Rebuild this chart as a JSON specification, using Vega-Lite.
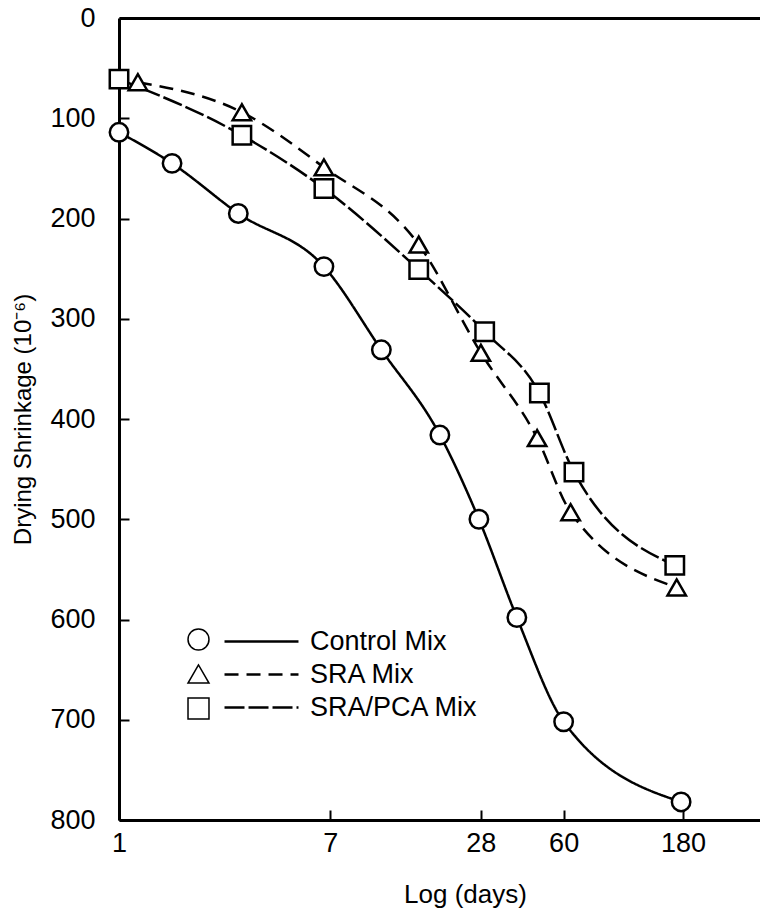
{
  "$schema": "https://vega.github.io/schema/vega-lite/v6.json",
  "width": 641,
  "height": 802,
  "autosize": {"type": "none"},
  "padding": {"left": 119, "top": 18, "right": 0, "bottom": 98},
  "background": "white",
  "config": {
    "view": {"stroke": null},
    "font": "Liberation Sans"
  },
  "data": {
    "values": [
      {"mix": "Control Mix", "days": 1, "shrinkage": 114},
      {"mix": "Control Mix", "days": 1.63, "shrinkage": 145},
      {"mix": "Control Mix", "days": 3.0, "shrinkage": 195},
      {"mix": "Control Mix", "days": 6.6, "shrinkage": 248},
      {"mix": "Control Mix", "days": 11.2, "shrinkage": 331},
      {"mix": "Control Mix", "days": 19.2, "shrinkage": 416},
      {"mix": "Control Mix", "days": 27.5, "shrinkage": 500},
      {"mix": "Control Mix", "days": 39, "shrinkage": 598},
      {"mix": "Control Mix", "days": 60, "shrinkage": 702},
      {"mix": "Control Mix", "days": 177, "shrinkage": 782},
      {"mix": "SRA Mix", "days": 1.19, "shrinkage": 64},
      {"mix": "SRA Mix", "days": 3.1, "shrinkage": 94},
      {"mix": "SRA Mix", "days": 6.6, "shrinkage": 149},
      {"mix": "SRA Mix", "days": 15.8, "shrinkage": 226},
      {"mix": "SRA Mix", "days": 28, "shrinkage": 334},
      {"mix": "SRA Mix", "days": 47, "shrinkage": 419},
      {"mix": "SRA Mix", "days": 64, "shrinkage": 493},
      {"mix": "SRA Mix", "days": 170, "shrinkage": 568},
      {"mix": "SRA/PCA Mix", "days": 1, "shrinkage": 61},
      {"mix": "SRA/PCA Mix", "days": 3.1, "shrinkage": 117},
      {"mix": "SRA/PCA Mix", "days": 6.6, "shrinkage": 170},
      {"mix": "SRA/PCA Mix", "days": 15.8, "shrinkage": 251},
      {"mix": "SRA/PCA Mix", "days": 29, "shrinkage": 313},
      {"mix": "SRA/PCA Mix", "days": 48, "shrinkage": 374},
      {"mix": "SRA/PCA Mix", "days": 66, "shrinkage": 453},
      {"mix": "SRA/PCA Mix", "days": 167, "shrinkage": 546}
    ]
  },
  "encoding": {
    "x": {
      "field": "days",
      "type": "quantitative",
      "scale": {"type": "log", "domain": [1, 366], "nice": false},
      "axis": {
        "values": [1, 7, 28, 60, 180],
        "format": "d",
        "labelFontSize": 27,
        "labelColor": "black",
        "labelFlush": false,
        "labelOverlap": false,
        "tickSize": -10,
        "tickWidth": 2,
        "tickColor": "black",
        "domainColor": "black",
        "domainWidth": 3,
        "labelPadding": 20,
        "grid": false,
        "title": "Log (days)",
        "titleFontSize": 26,
        "titleFontWeight": "normal",
        "titleColor": "black",
        "titleX": 346,
        "titlePadding": 25
      }
    },
    "y": {
      "field": "shrinkage",
      "type": "quantitative",
      "scale": {"domain": [0, 800], "reverse": true, "nice": false},
      "axis": {
        "values": [0, 100, 200, 300, 400, 500, 600, 700, 800],
        "labelFontSize": 27,
        "labelColor": "black",
        "tickSize": -10,
        "tickWidth": 2,
        "tickColor": "black",
        "domainColor": "black",
        "domainWidth": 3,
        "labelPadding": 34,
        "title": "Drying Shrinkage (10⁻⁶)",
        "titleFontSize": 24,
        "titleFontWeight": "normal",
        "titleColor": "black",
        "titlePadding": 14,
        "grid": true,
        "gridColor": "black",
        "gridWidth": 3,
        "gridOpacity": {"condition": {"test": "datum.value == 0", "value": 1}, "value": 0}
      }
    }
  },
  "layer": [
    {
      "mark": {"type": "line", "interpolate": "monotone", "color": "black", "strokeWidth": 2.5},
      "encoding": {
        "strokeDash": {
          "field": "mix",
          "type": "nominal",
          "scale": {"range": [[1, 0], [14, 8], [20, 4]]},
          "legend": {
            "orient": "none",
            "legendX": 129,
            "legendY": 610,
            "title": null,
            "symbolType": "M-4,0H4",
            "symbolSize": 342,
            "symbolStrokeWidth": 2.5,
            "symbolStrokeColor": "black",
            "labelFontSize": 27,
            "labelColor": "black",
            "labelOffset": 35,
            "labelLimit": 0,
            "rowPadding": 5,
            "padding": 0
          }
        }
      }
    },
    {
      "mark": {"type": "point", "shape": "circle", "filled": true, "fill": "white", "stroke": "black", "strokeWidth": 2.5, "size": 340, "opacity": 1},
      "encoding": {
        "shape": {
          "field": "mix",
          "type": "nominal",
          "sort": null,
          "scale": {"range": ["circle", "triangle-up", "square"]},
          "legend": {
            "orient": "none",
            "legendX": 68,
            "legendY": 610,
            "title": null,
            "symbolSize": 440,
            "labelExpr": "''",
            "labelFontSize": 1,
            "rowPadding": 8.5,
            "padding": 0,
            "encode": {
              "symbols": {
                "strokeWidth": {"value": 2.5}
              }
            }
          }
        }
      }
    }
  ]
}
